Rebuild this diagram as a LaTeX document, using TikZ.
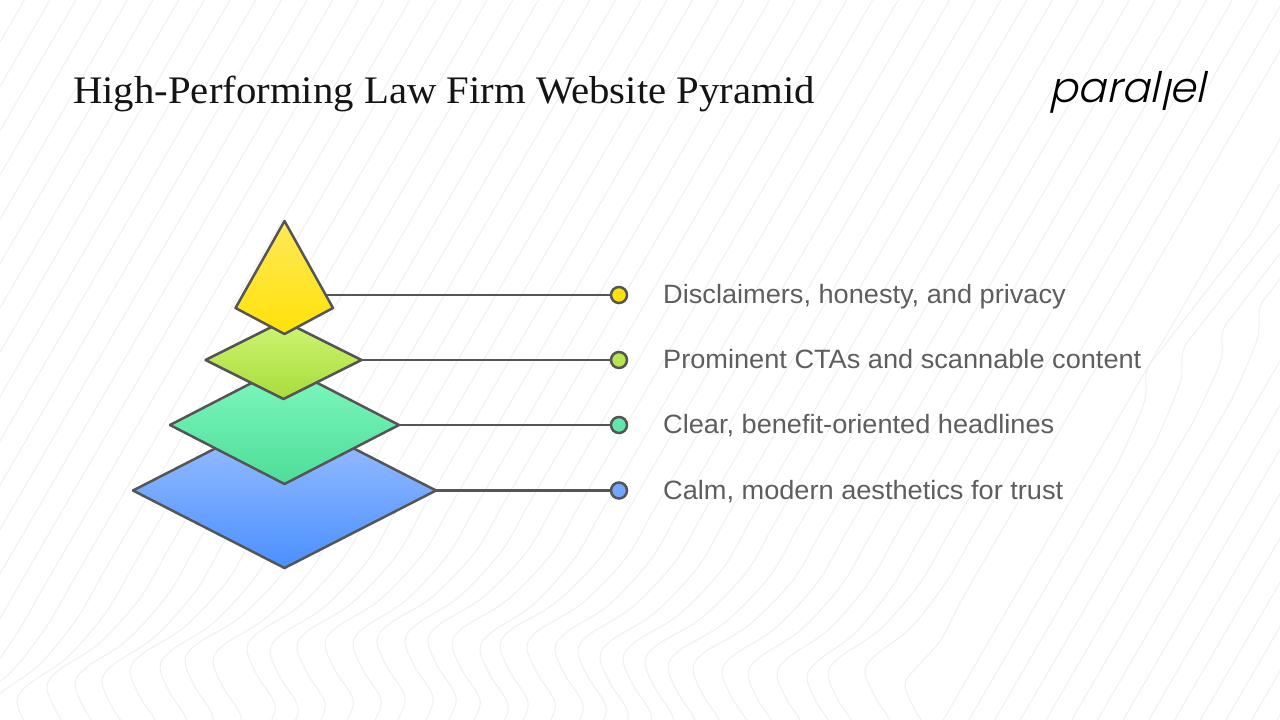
\documentclass[tikz,border=0pt]{standalone}
\usepackage{fontspec}
\setmainfont[FakeStretch=1.045]{Liberation Serif}
\newfontfamily\labelfont[FakeStretch=1.025]{Liberation Sans}
\newfontfamily\logofont[FakeSlant=0.22]{Poppins Light}
\usetikzlibrary{shapes.geometric}
\definecolor{edge}{HTML}{555555}
\definecolor{wave}{HTML}{EFEFEF}
\definecolor{ink}{HTML}{5E5E5E}
\definecolor{bltop}{HTML}{A3C3FF}
\definecolor{blbot}{HTML}{4A90FF}
\definecolor{grtop}{HTML}{80F9BF}
\definecolor{grbot}{HTML}{4DDD98}
\definecolor{lmtop}{HTML}{CEF574}
\definecolor{lmbot}{HTML}{A8DC3A}
\definecolor{yltop}{HTML}{FFE85A}
\definecolor{ylbot}{HTML}{FFE208}
\tikzset{
  tier/.style={diamond,draw=edge,line width=2.5pt,line join=round,inner sep=0pt,outer sep=0pt,aspect=2},
  link/.style={draw=edge,line width=2.8pt},
  dot/.style={circle,draw=edge,line width=2.5pt,minimum size=16pt,inner sep=0pt,outer sep=0pt},
  lbl/.style={anchor=base west,inner sep=0pt,text=ink,font=\labelfont\fontsize{26.5}{30}\selectfont},
  bgline/.style={draw=wave,line width=0.9pt}
}

\begin{document}
\begin{tikzpicture}[x=1pt,y=-1pt]
   \useasboundingbox (0,0) rectangle (1280,720);
   \fill[white] (0,0) rectangle (1280,720);

   % background contour lines
   \begin{scope}
    \clip (0,0) rectangle (1280,720);
    \foreach \i in {-19,...,-7,34,39,40,...,47} {
     \pgfmathsetmacro{\xa}{487+25.7*\i}
     \draw[bgline] (\xa,0) -- ({\xa-0.58*760},760);
    }
    \foreach \kx/\ky [count=\i from -6] in {-114/736,-88/728,-62/720,-36/712,-10/705,17/697,47/683,75/680,102/677,130/667,160/663,185/657,213/657,247/645,270/647,297/643,325/640,353/640,377/637,405/637,428/637,452/640,480/645,500/642,527/643,555/645,578/647,600/653,623/655,645/658,668/663,693/665,722/668,748/670,777/670,807/673,828/670,865/667,905/680} {
     \pgfmathsetmacro{\xa}{487+25.7*\i}
     \pgfmathsetmacro{\yb}{\ky-85}
     \pgfmathsetmacro{\xb}{\xa-0.58*\yb}
     \pgfmathsetmacro{\xc}{\xb+0.58*40}
     \pgfmathsetmacro{\xd}{0.5*(\xb+\kx)+6}
     \draw[bgline] (\xa,0) -- (\xc,\yb-40)
      plot[smooth,tension=0.55] coordinates {(\xc,\yb-40) (\xb,\yb) (\xd,\ky-40) (\kx+12,\ky-13) (\kx,\ky+4) (\kx+10,\ky+30) (\kx+28,\ky+60) (\kx+20,\ky+85) (\kx+4,\ky+120)};
    }
    \foreach \i/\kx/\ky in {35/1147/363,36/1183/343,37/1223/323,38/1260/300} {
     \pgfmathsetmacro{\xa}{487+25.7*\i}
     \pgfmathsetmacro{\xb}{\xa-0.58*(\ky+100)}
     \pgfmathsetmacro{\xc}{\xa-0.58*(\ky-130)}
     \draw[bgline] (\xa,0) -- (\xc,\ky-130)
      plot[smooth,tension=0.55] coordinates {(\xc,\ky-130) (\kx+17,\ky-17) (\kx,\ky+8) (\kx-3,\ky+40) (\xb,\ky+100)}
      -- ({\xa-0.58*760},760);
    }
   \end{scope}

   % title and logo
   \node[anchor=base west,inner sep=0pt,text=black!92,font=\fontsize{39}{44}\selectfont] (title) at (73,103) {High-Performing Law Firm Website Pyramid};
   \node[anchor=base east,inner sep=0pt,text=black,font=\logofont\fontsize{42}{50}\selectfont] (logo) at (1205,102) {paral\raisebox{-0.2em}{l}el};

   % pyramid
   \node[tier,minimum width=303pt,minimum height=155pt,top color=bltop,bottom color=blbot] (bl) at (284.5,490.5) {};
   \node[tier,minimum width=229pt,minimum height=118pt,top color=grtop,bottom color=grbot] (gr) at (284.5,425) {};
   \node[tier,minimum width=156pt,minimum height=78pt,top color=lmtop,bottom color=lmbot] (lm) at (283.5,360) {};
   \draw[draw=edge,line width=2.5pt,line join=round,top color=yltop,bottom color=ylbot]
     (284.5,221) -- (333,308) -- (284.5,334) -- (235.5,308) -- cycle;
   \coordinate (yl) at (326,295);

   % dots, connectors and labels
   \node[dot,fill=ylbot] (dy) at (619,295) {};
   \node[dot,fill=lmtop!40!lmbot] (dl) at (619,360) {};
   \node[dot,fill=grtop!40!grbot] (dg) at (619,425) {};
   \node[dot,fill=bltop!45!blbot] (db) at (619,490.5) {};
   \draw[link] (yl) -- (dy);
   \draw[link] (lm.east) -- (dl);
   \draw[link] (gr.east) -- (dg);
   \draw[link] (bl.east) -- (db);
   \node[lbl] (ly) at (663,303.5) {Disclaimers, honesty, and privacy};
   \node[lbl] (ll) at (663,368.5) {Prominent CTAs and scannable content};
   \node[lbl] (lg) at (663,433.5) {Clear, benefit-oriented headlines};
   \node[lbl] (lb) at (663,499) {Calm, modern aesthetics for trust};
\end{tikzpicture}
\end{document}
